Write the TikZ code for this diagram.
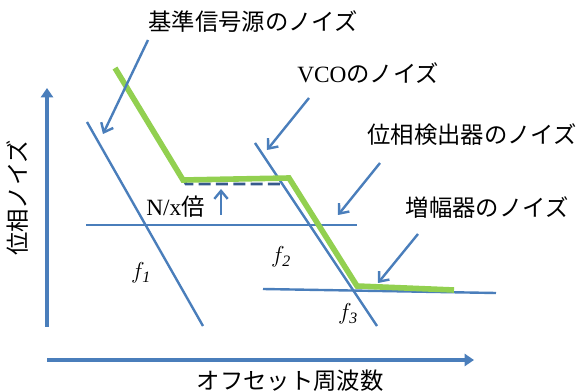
\documentclass[tikz,border=0pt]{standalone}
\usepackage{fontspec}
\setmainfont{Liberation Serif}
\newfontfamily\jpfont{Noto Sans CJK JP}
\usetikzlibrary{arrows.meta}

\definecolor{lineblue}{RGB}{74,126,187}
\definecolor{shadeblue}{RGB}{55,90,140}
\definecolor{noisegreen}{RGB}{146,208,80}

\begin{document}
\begin{tikzpicture}[
    x=0.75pt, y=-0.75pt,
    asym/.style={lineblue, line width=1.8pt},
    axis/.style={lineblue, line width=2.4pt, -{Triangle[width=9pt,length=7pt]}},
    pointer/.style={lineblue, line width=1.8pt, -{Straight Barb[width=10pt,length=6pt]}},
    label/.style={font=\fontsize{17.5}{19}\selectfont, inner sep=0pt},
    freq/.style={font=\fontsize{17}{19}\selectfont, inner sep=0pt}
]
\useasboundingbox (0,0) rectangle (579,392);

% axes
\coordinate (origin) at (47,327);
\coordinate (ytop) at (47,88);
\coordinate (xstart) at (47,360);
\coordinate (xend) at (474,360);
\draw[axis] (origin) -- (ytop);
\draw[axis] (xstart) -- (xend);
\node[label, rotate=90] (ylabel) at (18,198) {\jpfont 位相ノイズ};
\node[label] (xlabel) at (290,381) {\jpfont オフセット周波数};

% asymptotes
\coordinate (ref1) at (87,122);
\coordinate (ref2) at (203,326);
\coordinate (pd1) at (86,225);
\coordinate (pd2) at (357,225);
\coordinate (vco1) at (255,143);
\coordinate (vco2) at (377,326);
\coordinate (amp1) at (263,289);
\coordinate (amp2) at (496,293);
\draw[asym] (ref1) -- (ref2);
\draw[asym] (pd1) -- (pd2);
\draw[asym] (vco1) -- (vco2);
\draw[asym] (amp1) -- (amp2);

% reference noise times N/x
\coordinate (sh1) at (121,76);
\coordinate (sh2) at (186,184);
\coordinate (sh3) at (283,184);
\draw[shadeblue, line width=2pt, dash pattern=on 9pt off 4pt] (sh1) -- (sh2) -- (sh3);

% total noise
\coordinate (g1) at (115,68);
\coordinate (g2) at (183,180);
\coordinate (g3) at (289,178);
\coordinate (g4) at (357,286);
\coordinate (g5) at (454,290);
\draw[noisegreen, line width=4.2pt] (g1) -- (g2) -- (g3) -- (g4) -- (g5);

% labels
\node[label] (reflabel) at (253,22) {\jpfont 基準信号源のノイズ};
\node[label, anchor=west] (vcolabel) at (297,73) {VCO{\jpfont のノイズ}};
\node[label] (pdlabel) at (472,135) {\jpfont 位相検出器のノイズ};
\node[label] (amplabel) at (487,208) {\jpfont 増幅器のノイズ};
\node[label, anchor=west] (gain) at (146,207) {N/x{\jpfont 倍}};
\node[freq] (f1) at (141,273) {$f_{\mathit{1}}$};
\node[freq] (f2) at (281,257) {$f_{\mathit{2}}$};
\node[freq] (f3) at (348,314) {$f_{\mathit{3}}$};

% pointers
\coordinate (p1s) at (148,40);
\coordinate (p1e) at (103,134);
\coordinate (p2s) at (309,98);
\coordinate (p2e) at (267,150);
\coordinate (p3s) at (380,163);
\coordinate (p3e) at (338,215);
\coordinate (p4s) at (418,234);
\coordinate (p4e) at (378,283);
\coordinate (ups) at (221,215);
\coordinate (upe) at (221,189);
\draw[pointer] (p1s) -- (p1e);
\draw[pointer] (p2s) -- (p2e);
\draw[pointer] (p3s) -- (p3e);
\draw[pointer] (p4s) -- (p4e);
\draw[pointer] (ups) -- (upe);
\end{tikzpicture}
\end{document}
